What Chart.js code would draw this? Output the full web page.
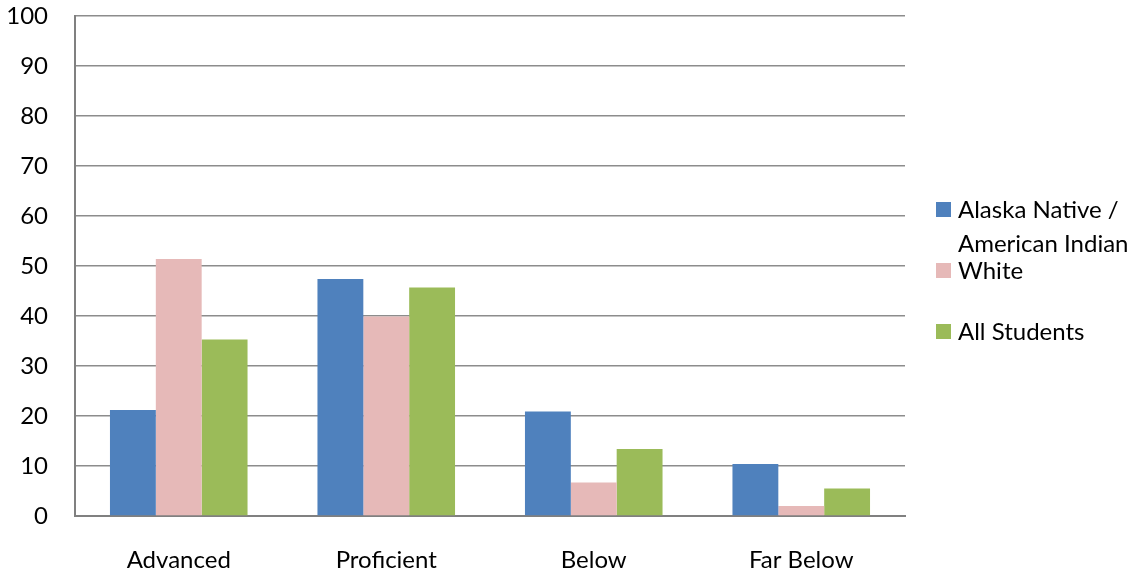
<!DOCTYPE html>
<html>
<head>
<meta charset="utf-8">
<script src="https://cdn.jsdelivr.net/npm/chart.js@4"></script>
<style>
  body { margin: 0; background: #fff; }
  #wrap { position: relative; width: 1142px; height: 576px; }
  #legend { position: absolute; left: 936px; top: 0; font-family: Lato, sans-serif; font-size: 24px; color: #000; }
  .item { position: absolute; left: 0; white-space: nowrap; }
  .box { position: absolute; left: 0; width: 15px; height: 15px; }
  .txt { position: absolute; left: 22px; line-height: 34px; }
</style>
</head>
<body>
<div id="wrap">
  <canvas id="myChart" width="1142" height="576"></canvas>
  <div id="legend"></div>
</div>
<script>
// データ
const categories = ['Advanced', 'Proficient', 'Below', 'Far Below'];
const seriesNames = [['Alaska Native /', 'American Indian'], ['White'], ['All Students']];
const nativeValues = [21.2, 47.4, 20.9, 10.4];
const whiteValues = [51.4, 39.9, 6.7, 2.0];
const allValues = [35.3, 45.7, 13.4, 5.5];
const colors = ['#4F81BD', '#E6B9B8', '#9BBB59'];

const font = { family: 'Lato, sans-serif', size: 24 };

new Chart(document.getElementById('myChart'), {
  type: 'bar',
  data: {
    labels: categories,
    datasets: [nativeValues, whiteValues, allValues].map((d, i) => ({
      label: seriesNames[i].join(' '),
      data: d,
      backgroundColor: colors[i],
      barPercentage: 1,
      categoryPercentage: 0.663
    }))
  },
  options: {
    responsive: false,
    animation: false,
    layout: { padding: { top: 16, right: 237, left: 0, bottom: 0 } },
    plugins: { legend: { display: false }, tooltip: { enabled: false } },
    scales: {
      x: {
        grid: { display: false, drawTicks: false },
        border: { color: '#808080', width: 2 },
        ticks: { font: font, color: '#000', padding: 30 },
        afterFit: s => { s.height = 60; s.paddingLeft = 0; s.paddingRight = 0; }
      },
      y: {
        min: 0, max: 100,
        ticks: { stepSize: 10, font: font, color: '#000', padding: 27 },
        grid: { color: '#8c8c8c', lineWidth: 1.5, drawTicks: false },
        border: { color: '#808080', width: 2 },
        afterFit: s => { s.width = 75; s.paddingTop = 0; s.paddingBottom = 0; }
      }
    }
  }
});

// 凡例
const legendTops = [202, 263, 324];
const legend = document.getElementById('legend');
seriesNames.forEach((lines, i) => {
  const item = document.createElement('div');
  item.className = 'item';
  item.style.top = (legendTops[i] - 10) + 'px';
  item.innerHTML = `<div class="box" style="top:10px;background:${colors[i]}"></div>` +
    `<div class="txt">${lines.join('<br>')}</div>`;
  legend.appendChild(item);
});
</script>
</body>
</html>
